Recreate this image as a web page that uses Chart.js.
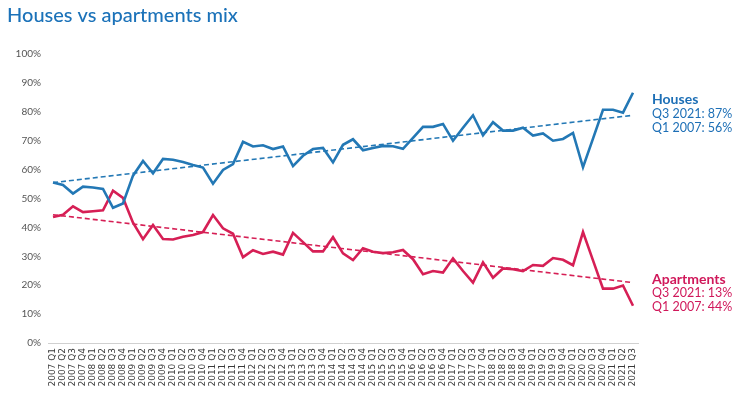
<!DOCTYPE html>
<html>
<head>
<meta charset="utf-8">
<script src="https://cdn.jsdelivr.net/npm/chart.js@4"></script>
<style>
html,body{margin:0;padding:0;background:#fff;}
#wrap{width:745px;height:399px;}
</style>
</head>
<body>
<div id="wrap"><canvas id="mixChart" width="745" height="399"></canvas></div>
<script>
// quarters, 2007 Q1 .. 2021 Q3
const quarters = [
"2007 Q1","2007 Q2","2007 Q3","2007 Q4","2008 Q1","2008 Q2","2008 Q3","2008 Q4",
"2009 Q1","2009 Q2","2009 Q3","2009 Q4","2010 Q1","2010 Q2","2010 Q3","2010 Q4",
"2011 Q1","2011 Q2","2011 Q3","2011 Q4","2012 Q1","2012 Q2","2012 Q3","2012 Q4",
"2013 Q1","2013 Q2","2013 Q3","2013 Q4","2014 Q1","2014 Q2","2014 Q3","2014 Q4",
"2015 Q1","2015 Q2","2015 Q3","2015 Q4","2016 Q1","2016 Q2","2016 Q3","2016 Q4",
"2017 Q1","2017 Q2","2017 Q3","2017 Q4","2018 Q1","2018 Q2","2018 Q3","2018 Q4",
"2019 Q1","2019 Q2","2019 Q3","2019 Q4","2020 Q1","2020 Q2","2020 Q3","2020 Q4",
"2021 Q1","2021 Q2","2021 Q3"
];

const houses = [
55.5,54.7,51.7,54.1,53.8,53.3,46.8,48.3,57.9,63.0,
58.7,63.7,63.4,62.6,61.6,60.7,55.1,59.9,61.9,69.6,
68.0,68.4,67.1,68.0,61.2,64.8,67.1,67.5,62.5,68.6,
70.5,66.7,67.5,68.2,68.1,67.2,71.0,74.8,74.8,75.8,
70.0,74.5,78.8,71.9,76.4,73.5,73.5,74.5,71.8,72.5,
70.0,70.6,72.7,60.8,70.7,80.7,80.7,79.7,86.6
];

const apartments = [
43.6,44.4,47.3,45.3,45.6,45.9,52.7,50.2,41.6,35.9,
40.8,36.0,35.8,36.8,37.4,38.4,44.3,39.7,37.8,29.7,
32.1,30.8,31.6,30.6,38.1,34.9,31.7,31.7,36.6,31.0,
28.7,32.8,31.6,31.1,31.4,32.2,29.0,23.8,24.9,24.4,
29.3,24.9,20.9,27.9,22.6,25.8,25.5,24.9,27.0,26.7,
29.4,28.8,26.9,38.4,28.6,18.8,18.8,19.9,12.9
];

// trend line ends (first / last quarter)
const housesTrend = [55.5, 78.8];
const apartmentsTrend = [44.4, 20.9];

const yTicks = [0,10,20,30,40,50,60,70,80,90,100];

const BLUE = "#2378b5";
const RED = "#d61f55";

function trend(ends){
  return [
    {x: quarters[0], y: ends[0]},
    {x: quarters[quarters.length-1], y: ends[1]}
  ];
}

// side notes next to the lines
const sideNotes = {
  id: "sideNotes",
  afterDraw(chart){
    const c = chart.ctx;
    const x = chart.chartArea.right + 14;
    c.save();
    c.textBaseline = "middle";
    c.textAlign = "left";
    c.fillStyle = "#1d6fb6";
    c.font = "bold 14px Lato";
    c.fillText("Houses", x, 99);
    c.font = "12.5px Lato";
    c.fillText("Q3 2021: 87%", x, 113.5);
    c.fillText("Q1 2007: 56%", x, 127.5);
    c.fillStyle = "#d0185a";
    c.font = "bold 14px Lato";
    c.fillText("Apartments", x, 279);
    c.font = "12.5px Lato";
    c.fillText("Q3 2021: 13%", x, 293);
    c.fillText("Q1 2007: 44%", x, 307);
    c.restore();
  }
};

new Chart(document.getElementById("mixChart"),{
  type:"line",
  data:{
    labels: quarters,
    datasets:[
      {label:"Houses", data:houses, borderColor:BLUE, borderWidth:2.6, pointRadius:0, tension:0},
      {label:"Apartments", data:apartments, borderColor:RED, borderWidth:2.6, pointRadius:0, tension:0},
      {label:"Houses trend", data:trend(housesTrend), borderColor:BLUE, borderWidth:1.6, borderDash:[5,3], pointRadius:0},
      {label:"Apartments trend", data:trend(apartmentsTrend), borderColor:RED, borderWidth:1.6, borderDash:[5,3], pointRadius:0}
    ]
  },
  options:{
    responsive:false,
    animation:false,
    layout:{padding:{left:7, right:107, top:4, bottom:0}},
    plugins:{
      legend:{display:false},
      tooltip:{enabled:false},
      title:{
        display:true,
        text:"Houses vs apartments mix",
        align:"start",
        color:"#1b72b9",
        font:{family:"Lato", size:20, weight:"500"},
        padding:{top:0, bottom:26}
      }
    },
    scales:{
      x:{
        offset:true,
        grid:{display:false, drawTicks:false},
        border:{display:true, color:"#d0d0d0", width:1},
        ticks:{
          autoSkip:false, maxRotation:90, minRotation:90,
          color:"#3a3a3a", padding:5,
          font:{family:"DejaVu Sans", size:9}
        },
        afterFit(scale){ scale.height = 56; }
      },
      y:{
        min:0, max:100,
        grid:{display:false, drawTicks:false},
        border:{display:false},
        afterBuildTicks(scale){ scale.ticks = yTicks.map(v => ({value:v})); },
        ticks:{
          color:"#555", padding:7,
          font:{family:"Lato", size:10},
          callback:v => v + "%"
        },
        afterFit(scale){ scale.width = 41; }
      }
    }
  },
  plugins:[sideNotes]
});
</script>
</body>
</html>
